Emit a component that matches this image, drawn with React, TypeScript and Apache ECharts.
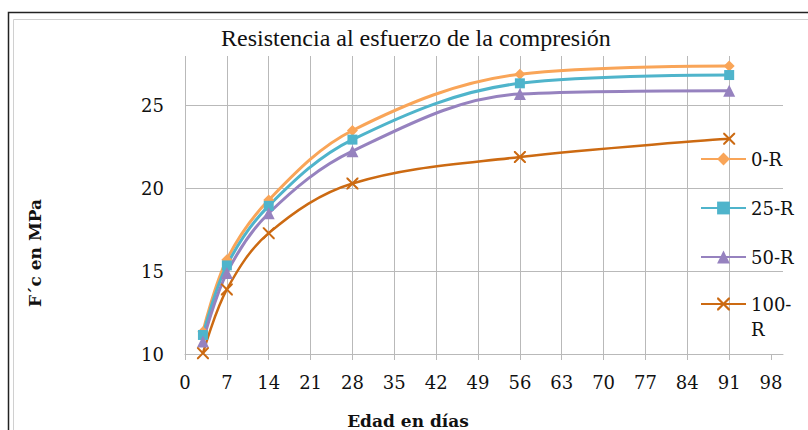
import React, { useEffect, useRef } from "react";
import * as echarts from "echarts";

const days = [3, 7, 14, 28, 56, 91];
const seriesNames = ["0-R", "25-R", "50-R", "100-R"];
const r0 = [11.35, 15.7, 19.3, 23.5, 26.9, 27.4];
const r25 = [11.15, 15.35, 18.95, 22.95, 26.35, 26.85];
const r50 = [10.75, 14.9, 18.5, 22.25, 25.7, 25.9];
const r100 = [10.05, 13.9, 17.3, 20.3, 21.9, 23.0];
const xTicks = [0, 7, 14, 21, 28, 35, 42, 49, 56, 63, 70, 77, 84, 91, 98];
const title = "Resistencia al esfuerzo de la compresión";
const xTitle = "Edad en días";
const yTitle = "F´c en MPa";

const colors = ["#F9A558", "#4FB4CB", "#9682BF", "#CC6A12"];
const symbols = [
  "diamond",
  "rect",
  "triangle",
  "path://M0,0 L1.2,0 L5,3.8 L8.8,0 L10,0 L10,1.2 L6.2,5 L10,8.8 L10,10 L8.8,10 L5,6.2 L1.2,10 L0,10 L0,8.8 L3.8,5 L0,1.2 Z",
];
const symbolSizes = [11, 10, 12, 12];

export default function App() {
  const ref = useRef<HTMLDivElement>(null);
  useEffect(() => {
    if (!ref.current) return;
    const chart = echarts.init(ref.current, null, { renderer: "svg" });
    const values = [r0, r25, r50, r100];
    const gridColor = "#b9b9b9";
    const serif = "DejaVu Serif";
    chart.setOption({
      animation: false,
      backgroundColor: "#ffffff",
      title: {
        text: title,
        left: 216,
        top: 21,
        textStyle: {
          fontFamily: "Liberation Serif",
          fontSize: 24,
          fontWeight: "normal",
          color: "#111",
        },
      },
      grid: { left: 185, right: 25, top: 56, bottom: 76 },
      xAxis: {
        type: "value",
        min: 0,
        max: 100,
        interval: 7,
        axisLine: { show: true, lineStyle: { color: gridColor, width: 1 } },
        axisTick: {
          show: true,
          length: 6,
          lineStyle: { color: gridColor },
          customValues: xTicks,
        },
        axisLabel: {
          showMaxLabel: false,
          margin: 19,
          fontFamily: serif,
          fontSize: 18,
          color: "#111",
        },
        splitLine: {
          show: true,
          showMaxLine: false,
          lineStyle: { color: gridColor, width: 1 },
        },
      },
      yAxis: {
        type: "value",
        min: 10,
        max: 28,
        interval: 5,
        axisLine: { show: false },
        axisTick: { show: false },
        axisLabel: {
          showMaxLabel: false,
          margin: 21,
          fontFamily: serif,
          fontSize: 18,
          color: "#111",
        },
        splitLine: {
          show: true,
          showMaxLine: false,
          lineStyle: { color: gridColor, width: 1 },
        },
      },
      legend: [
        {
          orient: "vertical",
          left: 700,
          top: 147,
          padding: 0,
          itemGap: 25,
          itemWidth: 45,
          itemHeight: 16,
          data: seriesNames.slice(0, 3),
          textStyle: {
            fontFamily: serif,
            fontSize: 18,
            lineHeight: 24,
            color: "#111",
          },
        },
        {
          orient: "vertical",
          left: 700,
          top: 295,
          padding: 0,
          itemWidth: 45,
          itemHeight: 16,
          data: [seriesNames[3]],
          formatter: () => "{a|100-}\n{a|R}",
          textStyle: {
            padding: [25, 0, 0, 0],
            rich: {
              a: {
                fontFamily: serif,
                fontSize: 18,
                lineHeight: 25,
                color: "#111",
              },
            },
          },
        },
      ],
      graphic: [
        {
          type: "rect",
          shape: { x: 8.5, y: 12.5, width: 900, height: 500 },
          style: { fill: "none", stroke: "#222", lineWidth: 1.5 },
          silent: true,
        },
        {
          type: "rect",
          shape: { x: 13.5, y: 19.5, width: 900, height: 500 },
          style: { fill: "none", stroke: "#d0d0d0", lineWidth: 1 },
          silent: true,
        },
        {
          type: "text",
          x: 408,
          y: 421,
          style: {
            text: xTitle,
            font: "bold 17px 'DejaVu Serif'",
            fill: "#111",
            align: "center",
            verticalAlign: "middle",
          },
        },
        {
          type: "text",
          x: 35,
          y: 253,
          rotation: Math.PI / 2,
          style: {
            text: yTitle,
            font: "bold 17px 'DejaVu Serif'",
            fill: "#111",
            align: "center",
            verticalAlign: "middle",
          },
        },
      ],
      series: seriesNames.map((name, i) => ({
        name,
        type: "line",
        smooth: 0.35,
        data: days.map((d, j) => [d, values[i][j]]),
        symbol: symbols[i],
        symbolSize: symbolSizes[i],
        showAllSymbol: true,
        lineStyle: { color: colors[i], width: i === 3 ? 2.5 : 3 },
        itemStyle: { color: colors[i] },
        emphasis: { disabled: true },
      })),
    });
    return () => chart.dispose();
  }, []);
  return (
    <div
      ref={ref}
      style={{ position: "absolute", left: 0, top: 0, width: 808, height: 430 }}
    />
  );
}
